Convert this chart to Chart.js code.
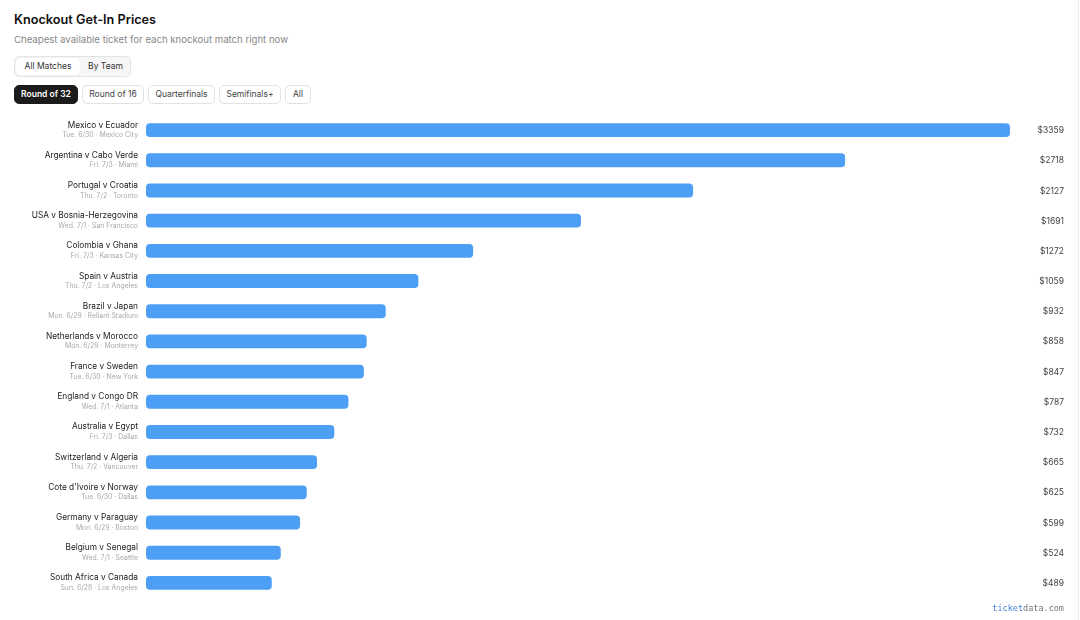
<!DOCTYPE html>
<html>
<head>
<meta charset="utf-8">
<script src="https://cdn.jsdelivr.net/npm/chart.js@4.4.1/dist/chart.umd.min.js"></script>
<style>
  html, body { margin:0; padding:0; background:#fff; }
  body { width:1080px; height:620px; position:relative; overflow:hidden; font-family: Inter, "Noto Sans", sans-serif; }
  .edge { position:absolute; right:1px; top:0; bottom:0; width:1px; background:#ececec; }
  h1 { position:absolute; left:14px; top:12px; margin:0; font-size:12.7px; font-weight:600; color:#111; }
  .sub { position:absolute; left:14px; top:34px; font-size:9.6px; color:#888; }
  .toggle { position:absolute; left:14px; top:56px; width:115px; height:19px; border:1px solid #e4e4e4; border-radius:5px; background:#f6f6f6; box-sizing:content-box; }
  .toggle span { position:absolute; top:0; height:19px; line-height:19px; font-size:8.5px; color:#333; text-align:center; }
  .toggle .on { left:1px; width:64px; background:#fff; border-radius:4px; top:1px; height:17px; line-height:17px; box-shadow:0 0 1px rgba(0,0,0,0.15); }
  .toggle .off { left:66px; width:49px; }
  .pill { position:absolute; top:85px; height:17px; line-height:17px; border:1px solid #e2e2e2; border-radius:5px; font-size:8.5px; color:#444; text-align:center; background:#fff; }
  .pill.on { background:#1b1b1b; color:#fff; border-color:#1b1b1b; font-weight:600; }
  #wrap { position:absolute; left:0; top:110px; width:1080px; height:500px; }
  .foot { position:absolute; right:16px; top:603px; font-family:"DejaVu Sans Mono", "Liberation Mono", monospace; font-size:8.5px; color:#777; }
  .foot b { font-weight:normal; color:#4a84d6; }
</style>
</head>
<body>
<div class="edge"></div>
<h1>Knockout Get-In Prices</h1>
<div class="sub">Cheapest available ticket for each knockout match right now</div>
<div class="toggle"><span class="on">All Matches</span><span class="off">By Team</span></div>
<div class="pill on" style="left:14px;width:62px;">Round of 32</div>
<div class="pill" style="left:82px;width:60px;">Round of 16</div>
<div class="pill" style="left:148px;width:65px;">Quarterfinals</div>
<div class="pill" style="left:219px;width:60px;">Semifinals+</div>
<div class="pill" style="left:285px;width:24px;">All</div>
<div id="wrap"><canvas id="c"></canvas></div>
<div class="foot"><b>ticket</b>data.com</div>
<script>
const matches = [
  "Mexico v Ecuador", "Argentina v Cabo Verde", "Portugal v Croatia", "USA v Bosnia-Herzegovina",
  "Colombia v Ghana", "Spain v Austria", "Brazil v Japan", "Netherlands v Morocco",
  "France v Sweden", "England v Congo DR", "Australia v Egypt", "Switzerland v Algeria",
  "Cote d'Ivoire v Norway", "Germany v Paraguay", "Belgium v Senegal", "South Africa v Canada"
];
const details = [
  "Tue. 6/30 · Mexico City", "Fri. 7/3 · Miami", "Thu. 7/2 · Toronto", "Wed. 7/1 · San Francisco",
  "Fri. 7/3 · Kansas City", "Thu. 7/2 · Los Angeles", "Mon. 6/29 · Reliant Stadium", "Mon. 6/29 · Monterrey",
  "Tue. 6/30 · New York", "Wed. 7/1 · Atlanta", "Fri. 7/3 · Dallas", "Thu. 7/2 · Vancouver",
  "Tue. 6/30 · Dallas", "Mon. 6/29 · Boston", "Wed. 7/1 · Seattle", "Sun. 6/28 · Los Angeles"
];
const prices = [3359, 2718, 2127, 1691, 1272, 1059, 932, 858, 847, 787, 732, 665, 625, 599, 524, 489];

const labelPlugin = {
  id: 'rowLabels',
  afterDatasetsDraw(chart) {
    const ctx = chart.ctx;
    const y = chart.scales.y;
    ctx.save();
    ctx.textBaseline = 'middle';
    matches.forEach((m, i) => {
      const py = y.getPixelForValue(i);
      ctx.textAlign = 'right';
      ctx.fillStyle = '#222';
      ctx.font = '8.3px Inter, "Noto Sans", sans-serif';
      ctx.fillText(m, 138, py - 5);
      ctx.fillStyle = '#aaaaaa';
      ctx.font = '6.9px Inter, "Noto Sans", sans-serif';
      ctx.fillText(details[i], 138, py + 5);
      ctx.fillStyle = '#444';
      ctx.font = '8.5px Inter, "Noto Sans", sans-serif';
      ctx.fillText('$' + prices[i], 1064, py + 0.5);
    });
    ctx.restore();
  }
};

new Chart(document.getElementById('c'), {
  type: 'bar',
  data: {
    labels: matches,
    datasets: [{
      data: prices,
      backgroundColor: '#4d9ff6',
      borderRadius: 4,
      borderSkipped: false,
      barPercentage: 0.92,
      categoryPercentage: 0.5
    }]
  },
  options: {
    indexAxis: 'y',
    responsive: true,
    maintainAspectRatio: false,
    animation: false,
    layout: { padding: { left: 146, right: 70, top: 5, bottom: 12 } },
    plugins: { legend: { display: false }, tooltip: { enabled: false } },
    scales: {
      x: { display: false, min: 0, max: 3359 },
      y: { display: false }
    }
  },
  plugins: [labelPlugin]
});
</script>
</body>
</html>
